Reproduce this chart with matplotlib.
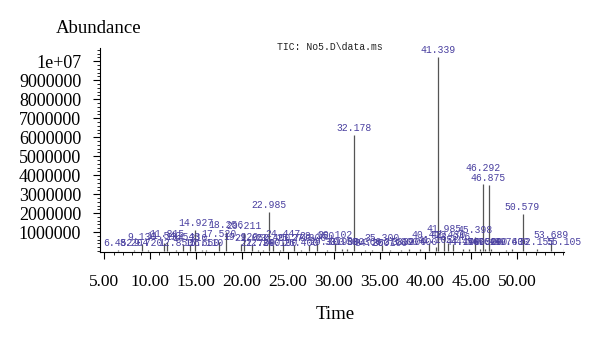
import matplotlib
matplotlib.use('Agg')
import matplotlib.pyplot as plt
from matplotlib.ticker import MultipleLocator, FixedLocator, NullFormatter

# Integrated TIC peaks: retention time (min) and abundance
PEAK_TIMES = [6.452, 8.204, 9.130, 9.720, 11.543, 11.815, 12.850, 13.543,
              14.310, 14.927, 15.650, 16.110, 17.520, 18.256, 19.920, 20.211,
              21.050, 21.700, 22.300, 22.985, 23.400, 24.100, 24.447, 25.700,
              26.400, 27.300, 28.150, 29.300, 30.102, 30.900, 31.500, 32.178,
              33.360, 34.200, 35.300, 36.100, 37.300, 38.200, 39.400, 40.412,
              41.105, 41.339, 41.985, 42.430, 43.046, 44.100, 44.700, 45.398,
              45.900, 46.292, 46.520, 46.875, 47.100, 48.763, 49.400, 50.579,
              52.155, 53.689, 55.105]
PEAK_HEIGHTS = [0.05e6, 0.04e6, 0.35e6, 0.06e6, 0.40e6, 0.50e6, 0.05e6, 0.38e6,
                0.30e6, 1.09e6, 0.05e6, 0.05e6, 0.50e6, 1.00e6, 0.38e6, 0.95e6,
                0.33e6, 0.05e6, 0.05e6, 2.05e6, 0.30e6, 0.05e6, 0.50e6, 0.30e6,
                0.05e6, 0.30e6, 0.42e6, 0.08e6, 0.45e6, 0.10e6, 0.10e6, 6.10e6,
                0.08e6, 0.05e6, 0.30e6, 0.05e6, 0.08e6, 0.12e6, 0.10e6, 0.45e6,
                0.20e6, 10.20e6, 0.80e6, 0.45e6, 0.38e6, 0.10e6, 0.10e6, 0.75e6,
                0.10e6, 3.55e6, 0.10e6, 3.50e6, 0.10e6, 0.08e6, 0.10e6, 1.93e6,
                0.10e6, 0.45e6, 0.10e6]

X_TICKS = [5, 10, 15, 20, 25, 30, 35, 40, 45, 50]
Y_TICKS = [1e6, 2e6, 3e6, 4e6, 5e6, 6e6, 7e6, 8e6, 9e6, 1e7]
Y_LABELS = ['1000000', '2000000', '3000000', '4000000', '5000000',
            '6000000', '7000000', '8000000', '9000000', '1e+07']

LABEL_COLOR = '#4a40a0'
serif = 'Liberation Serif'

fig = plt.figure(figsize=(6, 3.39), dpi=100)
ax = fig.add_axes([0.1667, 0.2566, 0.7733, 0.6018])

ax.vlines(PEAK_TIMES, 0, PEAK_HEIGHTS, color='#555555', linewidth=0.9)

# retention-time labels above each peak; one label is nudged up to clear its neighbour
lift = {46.292: 6}
for t, h in zip(PEAK_TIMES, PEAK_HEIGHTS):
    ax.annotate(f'{t:.3f}', xy=(t, h), xytext=(0, 1.5 + lift.get(t, 0)),
                textcoords='offset points', ha='center', va='bottom',
                fontsize=7, family='Liberation Mono', color=LABEL_COLOR,
                annotation_clip=False)

ax.set_xlim(4.53, 55.1)
ax.set_ylim(-0.05e6, 10.7e6)

for side in ('top', 'right'):
    ax.spines[side].set_visible(False)
ax.spines['left'].set_linewidth(0.8)
ax.spines['bottom'].set_linewidth(0.8)

ax.xaxis.set_major_locator(FixedLocator(X_TICKS))
ax.set_xticklabels([f'{v:.2f}' for v in X_TICKS], family=serif, fontsize=12.5)
ax.xaxis.set_minor_locator(MultipleLocator(1))
ax.yaxis.set_major_locator(FixedLocator(Y_TICKS))
ax.set_yticklabels(Y_LABELS, family=serif, fontsize=13)
ax.yaxis.set_minor_locator(MultipleLocator(2e5))
ax.yaxis.set_minor_formatter(NullFormatter())

ax.tick_params(which='major', direction='out', length=5, width=0.8)
ax.tick_params(which='minor', direction='out', length=2.5, width=0.6)
ax.tick_params(axis='x', which='major', pad=11)
ax.tick_params(axis='y', which='major', pad=8.5)

fig.text(0.165, 0.915, 'Abundance', family=serif, fontsize=13.5,
         ha='center', va='center')
fig.text(0.558, 0.073, 'Time', family=serif, fontsize=13.5,
         ha='center', va='center')
fig.text(0.462, 0.862, 'TIC: No5.D\\data.ms', family='Liberation Mono',
         fontsize=7, ha='left', va='center', color='#222222')

fig.savefig('out.png', dpi=100)
